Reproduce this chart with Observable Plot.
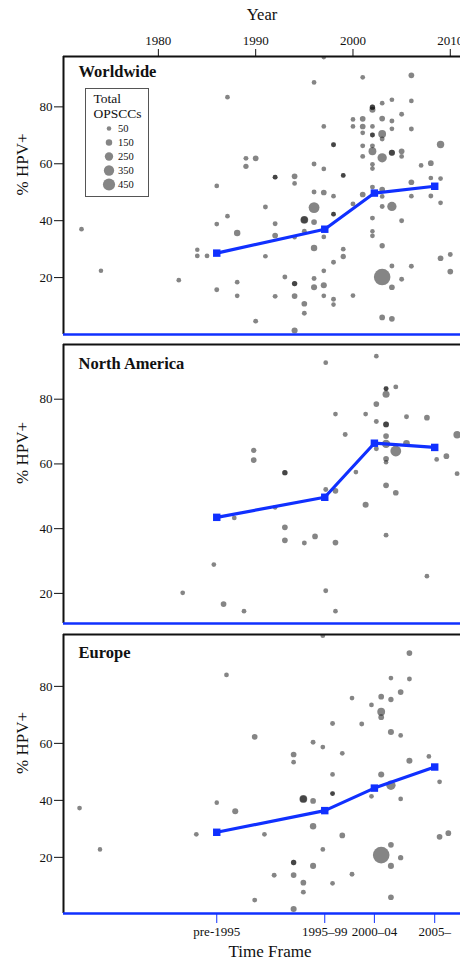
<!DOCTYPE html>
<html>
<head>
<meta charset="utf-8">
<script src="https://cdn.jsdelivr.net/npm/d3@7"></script>
<script src="https://cdn.jsdelivr.net/npm/@observablehq/plot@0.6"></script>
<style>
  html, body { margin: 0; padding: 0; background: #fff; overflow: hidden; }
  #chart { position: relative; width: 460px; height: 963px; font-family: "Liberation Serif", "DejaVu Serif", serif; }
  #chart svg { display: block; overflow: visible; }
  #legend { position: absolute; left: 85px; top: 88px; width: 64px; height: 109px; box-sizing: border-box; border: 1.5px solid #555; background: #fff; }
</style>
</head>
<body>
<div id="chart"></div>
<script>
// ---- data ----
const yearTicks = [1980, 1990, 2000, 2010];
const hpvTicks = [20, 40, 60, 80];
const timeFrames = ["pre-1995", "1995\u201399", "2000\u201304", "2005\u2013"];
const timeFrameYear = [1986.0, 1997.1, 2002.2, 2008.4];
const legendSizes = [50, 150, 250, 350, 450];

const worldwideTrend = [28.6, 37.0, 49.7, 52.1];
const northAmericaTrend = [43.5, 49.7, 66.4, 65.1];
const europeTrend = [28.8, 36.4, 44.3, 51.7];

// [year, % HPV+, total OPSCCs]
const worldwidePoints = [
  [1972.1, 37.0, 60], [1974.1, 22.4, 50], [1982.1, 19.1, 60], [1984.0, 29.8, 50], [1984.0, 27.6, 60],
  [1985.0, 27.6, 60], [1986.0, 52.2, 60], [1986.0, 38.8, 60], [1986.0, 15.7, 70], [1987.1, 83.4, 60],
  [1987.1, 41.6, 60], [1988.1, 35.7, 150], [1988.1, 18.4, 60], [1988.1, 13.6, 60], [1989.0, 61.9, 70],
  [1989.0, 59.1, 90], [1990.0, 61.9, 110], [1990.0, 4.7, 70], [1991.0, 44.8, 70], [1991.0, 27.5, 60],
  [1992.0, 55.3, 70], [1992.0, 55.3, 70], [1992.0, 38.9, 70], [1992.0, 34.8, 110], [1992.0, 13.4, 70],
  [1993.0, 20.2, 70], [1994.0, 55.6, 110], [1994.0, 53.1, 60], [1994.0, 34.2, 50], [1994.0, 17.9, 90],
  [1994.0, 17.9, 90], [1994.0, 13.5, 110], [1994.0, 1.4, 130], [1995.0, 40.3, 220], [1995.0, 40.3, 180],
  [1995.0, 36.3, 70], [1995.0, 10.8, 110], [1995.0, 7.5, 70], [1996.0, 88.6, 60], [1996.0, 59.9, 70],
  [1996.0, 50.1, 70], [1996.0, 44.6, 380], [1996.0, 39.5, 110], [1996.0, 30.4, 150], [1996.0, 19.7, 70],
  [1996.0, 16.6, 130], [1997.0, 97.5, 60], [1997.0, 73.1, 60], [1997.0, 58.2, 60], [1997.0, 49.9, 110],
  [1997.0, 34.3, 60], [1997.0, 22.4, 60], [1997.0, 17.3, 130], [1997.0, 13.6, 60], [1998.0, 66.7, 70],
  [1998.0, 66.7, 70], [1998.0, 48.6, 60], [1998.0, 42.3, 60], [1998.0, 42.3, 60], [1998.0, 25.4, 70],
  [1998.0, 12.4, 70], [1998.0, 10.5, 50], [1999.0, 55.9, 60], [1999.0, 55.9, 60], [1999.0, 30.0, 60],
  [1999.0, 27.4, 90], [2000.0, 75.6, 60], [2000.0, 73.1, 60], [2000.0, 45.9, 70], [2000.0, 13.7, 60],
  [2001.0, 90.4, 60], [2001.0, 75.8, 110], [2001.0, 73.1, 110], [2001.0, 70.9, 60], [2001.0, 66.3, 70],
  [2001.0, 62.6, 70], [2001.0, 49.2, 110], [2002.0, 79.9, 90], [2002.0, 79.9, 90], [2002.0, 79.0, 130],
  [2002.0, 73.1, 60], [2002.0, 70.1, 70], [2002.0, 70.1, 70], [2002.0, 66.3, 70], [2002.0, 64.4, 220],
  [2002.0, 59.8, 60], [2002.0, 58.3, 60], [2002.0, 51.8, 70], [2002.0, 40.9, 70], [2002.0, 36.3, 50],
  [2002.0, 34.7, 60], [2003.0, 81.3, 60], [2003.0, 75.9, 110], [2003.0, 70.5, 220], [2003.0, 68.7, 70],
  [2003.0, 62.1, 300], [2003.0, 50.9, 110], [2003.0, 48.5, 60], [2003.0, 45.0, 70], [2003.0, 31.2, 90],
  [2003.0, 20.2, 680], [2003.0, 6.0, 110], [2004.0, 82.5, 60], [2004.0, 75.0, 70], [2004.0, 72.3, 60],
  [2004.0, 63.9, 130], [2004.0, 63.9, 130], [2004.0, 45.0, 300], [2004.0, 24.1, 70], [2004.0, 16.6, 110],
  [2004.0, 5.5, 110], [2005.0, 77.4, 70], [2005.0, 64.4, 110], [2005.0, 62.6, 60], [2005.0, 40.0, 70],
  [2005.0, 19.4, 70], [2006.0, 91.1, 110], [2006.0, 82.1, 60], [2006.0, 72.2, 70], [2006.0, 53.5, 110],
  [2006.0, 48.6, 60], [2006.0, 24.0, 70], [2007.0, 59.4, 60], [2008.0, 60.2, 110], [2008.0, 55.0, 60],
  [2008.0, 48.7, 70], [2009.0, 66.8, 200], [2009.0, 54.8, 60], [2009.0, 46.3, 60], [2009.0, 26.8, 110],
  [2010.0, 28.1, 70], [2010.0, 22.1, 110]
];

const northAmericaPoints = [
  [1982.5, 20.2, 60], [1985.7, 28.9, 60], [1986.7, 16.7, 110], [1987.8, 43.3, 60], [1988.8, 14.5, 60],
  [1989.8, 64.2, 90], [1989.8, 61.2, 110], [1992.0, 46.6, 60], [1993.0, 57.3, 90], [1993.0, 57.3, 90],
  [1993.0, 40.4, 110], [1993.0, 36.4, 110], [1995.0, 35.6, 70], [1996.1, 37.6, 110], [1997.2, 91.3, 60],
  [1997.2, 52.1, 70], [1997.2, 20.8, 70], [1998.2, 75.4, 60], [1998.2, 51.7, 110], [1998.2, 35.7, 110],
  [1998.2, 14.5, 60], [1999.2, 69.1, 70], [2000.3, 57.5, 60], [2001.3, 75.4, 60], [2001.3, 47.4, 130],
  [2002.4, 93.3, 60], [2002.4, 78.5, 110], [2002.4, 73.1, 70], [2002.4, 64.7, 70], [2003.4, 83.2, 70],
  [2003.4, 83.2, 70], [2003.4, 81.5, 180], [2003.4, 72.2, 110], [2003.4, 72.2, 110], [2003.4, 68.6, 110],
  [2003.4, 66.2, 250], [2003.4, 61.6, 110], [2003.4, 60.5, 50], [2003.4, 53.4, 110], [2003.4, 38.0, 70],
  [2004.4, 83.8, 70], [2004.4, 64.0, 380], [2004.4, 51.1, 110], [2005.5, 74.6, 70], [2005.5, 66.4, 160],
  [2007.6, 74.3, 110], [2007.6, 25.3, 60], [2008.6, 61.4, 60], [2009.6, 62.4, 110], [2010.7, 69.0, 200],
  [2010.7, 57.0, 70]
];

const europePoints = [
  [1971.9, 37.3, 60], [1974.0, 22.8, 50], [1983.9, 28.1, 60], [1986.0, 39.2, 50], [1987.0, 84.0, 60],
  [1987.9, 36.2, 130], [1989.9, 62.3, 110], [1989.9, 5.0, 70], [1990.9, 28.1, 60], [1991.9, 13.7, 70],
  [1993.9, 56.1, 110], [1993.9, 53.4, 60], [1993.9, 18.2, 90], [1993.9, 18.2, 90], [1993.9, 13.8, 110],
  [1993.9, 1.9, 130], [1994.9, 40.5, 220], [1994.9, 40.5, 180], [1994.9, 11.1, 110], [1994.9, 7.8, 70],
  [1995.9, 60.4, 70], [1995.9, 39.8, 110], [1995.9, 30.9, 150], [1995.9, 17.0, 130], [1996.9, 97.8, 60],
  [1996.9, 58.7, 60], [1996.9, 22.8, 60], [1997.9, 67.0, 70], [1997.9, 49.1, 60], [1997.9, 42.4, 60],
  [1997.9, 42.4, 60], [1997.9, 10.9, 60], [1998.9, 56.5, 60], [1998.9, 27.7, 110], [1999.9, 75.9, 60],
  [1999.9, 14.1, 70], [2000.9, 66.8, 70], [2001.9, 73.5, 60], [2001.9, 41.4, 60], [2002.9, 76.4, 110],
  [2002.9, 71.1, 220], [2002.9, 69.2, 110], [2002.9, 49.1, 130], [2002.9, 20.8, 680], [2003.9, 82.9, 60],
  [2003.9, 75.4, 90], [2003.9, 64.0, 130], [2003.9, 45.3, 300], [2003.9, 24.4, 110], [2003.9, 17.0, 130],
  [2003.9, 6.0, 110], [2004.9, 78.0, 110], [2004.9, 62.8, 60], [2004.9, 40.5, 60], [2004.9, 19.9, 90],
  [2005.8, 91.7, 110], [2005.8, 82.6, 70], [2005.8, 53.9, 130], [2007.8, 55.4, 60], [2008.9, 46.5, 60],
  [2008.9, 27.2, 110], [2009.8, 28.5, 110]
];

// ---- styling ----
const BLUE = "#1030ff";
const FONT = "'Liberation Serif', 'DejaVu Serif', serif";
const xDomain = [1970.25, 2011.05];
const rScale = {type: "linear", domain: [0, 450], range: [1.8, 6.1]};

function panel({title, points, trend, yDomain, height, marginTop, marginBottom, topAxis, bottomAxis, titleDy}) {
  const pts = points.map(([year, pct, n]) => ({year, pct, n}));
  const tr = trend.map((v, i) => ({year: timeFrameYear[i], pct: v}));
  const marks = [
    Plot.dot(pts, {x: "year", y: "pct", r: "n", fill: "black", fillOpacity: 0.48, clip: true}),
    Plot.line(tr, {x: "year", y: "pct", stroke: BLUE, strokeWidth: 3.2}),
    Plot.dot(tr, {x: "year", y: "pct", symbol: "square", r: 4.2, fill: BLUE}),
    Plot.ruleX([xDomain[0]], {stroke: "#111", strokeWidth: 2}),
    Plot.ruleY([yDomain[1]], {stroke: "#111", strokeWidth: 2}),
    Plot.ruleY([yDomain[0]], {stroke: BLUE, strokeWidth: 2.5}),
    Plot.axisY({ticks: hpvTicks, tickSize: 9, tickPadding: 2, fontSize: 13, label: null, stroke: "#111"}),
    Plot.text(["% HPV+"], {frameAnchor: "left", lineAnchor: "middle", rotate: -90, dx: -41, fontSize: 17, fill: "#111"}),
    Plot.text([title], {frameAnchor: "top-left", textAnchor: "start", lineAnchor: "middle", dx: 15, dy: titleDy, fontSize: 16.5, fontWeight: "bold", fill: "#111"})
  ];
  if (topAxis) {
    marks.push(Plot.axisX({anchor: "top", ticks: yearTicks, tickSize: 8, tickPadding: 4, tickFormat: d => String(d), fontSize: 13, label: null, stroke: "#111"}));
    marks.push(Plot.text(["Year"], {frameAnchor: "top", lineAnchor: "middle", dy: -42, fontSize: 16.5, fill: "#111"}));
  }
  if (bottomAxis) {
    marks.push(Plot.axisX({anchor: "bottom", ticks: timeFrameYear, tickSize: 10, tickPadding: 3,
      tickFormat: d => timeFrames[timeFrameYear.indexOf(d)], fontSize: 13, label: null, stroke: BLUE, fill: "#111"}));
    marks.push(Plot.text(["Time Frame"], {frameAnchor: "bottom", lineAnchor: "middle", dy: 38, dx: 8, fontSize: 17, fill: "#111"}));
  }
  return Plot.plot({
    width: 460, height, marginLeft: 63, marginRight: 0, marginTop, marginBottom,
    style: {fontFamily: FONT, fontSize: "13px", color: "#111", background: "transparent"},
    x: {domain: xDomain, axis: null},
    y: {domain: yDomain, axis: null},
    r: rScale,
    marks
  });
}

const chart = document.getElementById("chart");
chart.appendChild(panel({title: "Worldwide", points: worldwidePoints, trend: worldwideTrend,
  yDomain: [0, 97.7], height: 340, marginTop: 56, marginBottom: 6, topAxis: true, titleDy: 15}));
chart.appendChild(panel({title: "North America", points: northAmericaPoints, trend: northAmericaTrend,
  yDomain: [10.7, 96.9], height: 290, marginTop: 4, marginBottom: 7, titleDy: 19}));
chart.appendChild(panel({title: "Europe", points: europePoints, trend: europeTrend,
  yDomain: [0.3, 98.2], height: 333, marginTop: 4, marginBottom: 50, bottomAxis: true, titleDy: 18}));

// size legend, drawn with the same r scale
const legend = document.createElement("div");
legend.id = "legend";
legend.appendChild(Plot.plot({
  width: 61, height: 106, margin: 0,
  style: {fontFamily: FONT, color: "#111", background: "transparent"},
  x: {domain: [0, 1], range: [22.5, 31.5], axis: null},
  y: {type: "point", domain: legendSizes, range: [39.2, 95.5], padding: 0, axis: null},
  r: rScale,
  marks: [
    Plot.text(["Total\nOPSCCs"], {frameAnchor: "top-left", textAnchor: "start", lineAnchor: "top", dx: 7, dy: 3, fontSize: 13.5, lineHeight: 1.12, fill: "#111"}),
    Plot.dot(legendSizes, {x: () => 0, y: d => d, r: d => d, fill: "black", fillOpacity: 0.48}),
    Plot.text(legendSizes, {x: () => 1, y: d => d, text: d => String(d), textAnchor: "start", fontSize: 10.5, fill: "#111"})
  ]
}));
chart.appendChild(legend);
</script>
</body>
</html>
